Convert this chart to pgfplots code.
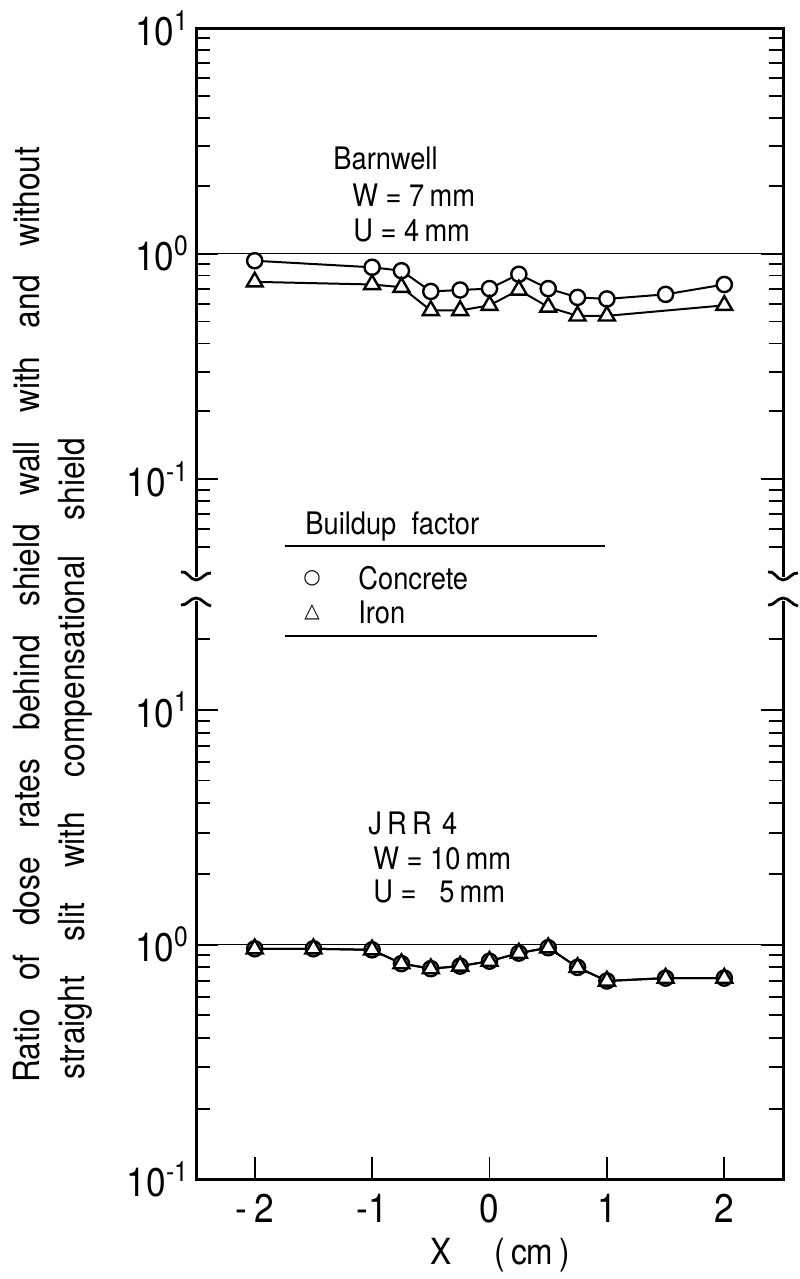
\documentclass[border=0pt]{standalone}
\usepackage{pgfplots}
\pgfplotsset{compat=1.18}
\usepackage{pgfplotstable}
\usepackage{fontspec}
\setmainfont{TeX Gyre Heros}[FakeStretch=0.88]
\newfontfamily\symfont{DejaVu Sans}

% Barnwell, W = 7 mm, U = 4 mm
\pgfplotstableread{
x     c
-2    0.93
-1    0.87
-0.75 0.84
-0.5  0.68
-0.25 0.69
0     0.70
0.25  0.81
0.5   0.70
0.75  0.64
1     0.63
1.5   0.66
2     0.73
}\topc
\pgfplotstableread{
x     i
-2    0.75
-1    0.73
-0.75 0.71
-0.5  0.56
-0.25 0.56
0     0.59
0.25  0.69
0.5   0.58
0.75  0.53
1     0.53
2     0.59
}\topi
% JRR 4, W = 10 mm, U = 5 mm
\pgfplotstableread{
x     c     i
-2    0.96  0.96
-1.5  0.96  0.96
-1    0.95  0.95
-0.75 0.83  0.83
-0.5  0.79  0.79
-0.25 0.81  0.81
0     0.85  0.85
0.25  0.92  0.92
0.5   0.97  0.97
0.75  0.80  0.80
1     0.70  0.70
1.5   0.72  0.72
2     0.72  0.72
}\botdata

\pgfplotsset{
  conc/.style={black, line width=1pt, mark=*, mark size=3.8pt,
    mark options={fill=white, line width=1.2pt, solid}},
  iron/.style={black, line width=1pt, mark=triangle*, mark size=4.6pt,
    mark options={fill=white, line width=1.2pt, solid}},
}

\begin{document}
\begin{tikzpicture}
\begin{scope}[x=0.5pt,y=-0.5pt]
\path[use as bounding box] (0,0) rectangle (791,1279);
\end{scope}

% upper panel
\begin{axis}[ymode=log, scale only axis, width=293.5pt, height=274.35pt,
  at={(98pt,-288.35pt)}, anchor=south west,
  xmin=-2.5, xmax=2.5, ymin=0.037, ymax=10, xtick=\empty,
  axis line style={draw=none},
  tick style={black, line width=0.9pt},
  major tick length=11pt, minor tick length=7pt,
  ytick={0.1,1,10},
  yticklabels={10\textsuperscript{-1},10\textsuperscript{0},10\textsuperscript{1}},
  yticklabel style={font=\fontsize{20}{22}\selectfont},
  minor ytick={0.05,0.06,0.07,0.08,0.09,0.2,0.3,0.4,0.5,0.6,0.7,0.8,0.9,2,3,4,5,6,7,8,9},
  clip=false]
\draw[line width=1.5pt] (rel axis cs:0,0) -- (rel axis cs:0,1) -- (rel axis cs:1,1) -- (rel axis cs:1,0);
\addplot[black, line width=0.8pt] coordinates {(-2.5,1) (2.5,1)};
\addplot[conc] table[x=x,y=c] {\topc};
\addplot[iron] table[x=x,y=i] {\topi};
\end{axis}

% lower panel
\begin{axis}[ymode=log, scale only axis, width=293.5pt, height=289.15pt,
  at={(98pt,-589.65pt)}, anchor=south west,
  xmin=-2.5, xmax=2.5, ymin=0.1, ymax=29.1,
  axis line style={draw=none},
  tick style={black, line width=0.9pt},
  major tick length=11pt, minor tick length=7pt,
  ytick={0.1,1,10},
  yticklabels={10\textsuperscript{-1},10\textsuperscript{0},10\textsuperscript{1}},
  yticklabel style={font=\fontsize{20}{22}\selectfont},
  minor ytick={0.2,0.3,0.4,0.5,0.6,0.7,0.8,0.9,2,3,4,5,6,7,8,9,20},
  xtick={-2,-1,0,1,2}, xticklabels={-\,2,-1,0,1,2}, xtick pos=bottom,
  xticklabel style={font=\fontsize{20}{22}\selectfont, yshift=-4pt},
  clip=false]
\draw[line width=1.5pt] (rel axis cs:0,1) -- (rel axis cs:0,0) -- (rel axis cs:1,0) -- (rel axis cs:1,1);
\addplot[black, line width=0.8pt] coordinates {(-2.5,1) (2.5,1)};
\addplot[conc] table[x=x,y=c] {\botdata};
\addplot[iron] table[x=x,y=i] {\botdata};
\end{axis}

\begin{scope}[x=0.5pt,y=-0.5pt]
% break marks
\foreach \xx in {196,783}{
  \draw[line width=1.4pt] (\xx-15,572) .. controls (\xx-9,570) and (\xx-6,580) .. (\xx,580) .. controls (\xx+6,580) and (\xx+9,572) .. (\xx+15,573);
  \draw[line width=1.4pt] (\xx-15,605) .. controls (\xx-9,606) and (\xx-6,598) .. (\xx,598) .. controls (\xx+6,598) and (\xx+9,605) .. (\xx+15,606);
}
% annotations
\node[anchor=west, inner sep=0pt, font=\fontsize{15.5}{17}\selectfont] at (333,158) {Barnwell};
\node[anchor=west, inner sep=0pt, font=\fontsize{15.5}{17}\selectfont] at (352,195) {W = 7\,mm};
\node[anchor=west, inner sep=0pt, font=\fontsize{15.5}{17}\selectfont] at (353,230) {U = 4\,mm};
\node[anchor=west, inner sep=0pt, font=\fontsize{15.5}{17}\selectfont] at (368,823) {J\,R\,R\,\,4};
\node[anchor=west, inner sep=0pt, font=\fontsize{15.5}{17}\selectfont] at (373,858) {W = 10\,mm};
\node[anchor=west, inner sep=0pt, font=\fontsize{15.5}{17}\selectfont] at (373,891) {U =\ \ \ 5\,mm};
\node[anchor=west, inner sep=0pt, font=\fontsize{15.5}{17}\selectfont] at (305,527) {Buildup\ \ factor};
\node[anchor=west, inner sep=0pt, font=\fontsize{15.5}{17}\selectfont] at (358,578) {Concrete};
\node[anchor=west, inner sep=0pt, font=\fontsize{15.5}{17}\selectfont] at (358,612) {Iron};
\node[font=\fontsize{10}{11}\selectfont\symfont] at (312,578) {○};
\node[font=\fontsize{10}{11}\selectfont\symfont] at (312,612) {△};
\draw[line width=0.9pt] (285,546) -- (605,546);
\draw[line width=0.9pt] (285,636) -- (597,636);
% axis titles
\node[font=\fontsize{18}{20}\selectfont] at (500,1255) {X\hspace{1.2em}(\,cm\,)};
\node[rotate=90, anchor=west, inner sep=0pt, font=\fontsize{18}{20}\selectfont] at (27,1083)
  {\makebox[468pt][s]{Ratio of dose rates behind shield wall with and without}};
\node[rotate=90, anchor=west, inner sep=0pt, font=\fontsize{18}{20}\selectfont] at (75,1080)
  {\makebox[321pt][s]{straight slit with compensational shield}};
\end{scope}
\end{tikzpicture}
\end{document}
